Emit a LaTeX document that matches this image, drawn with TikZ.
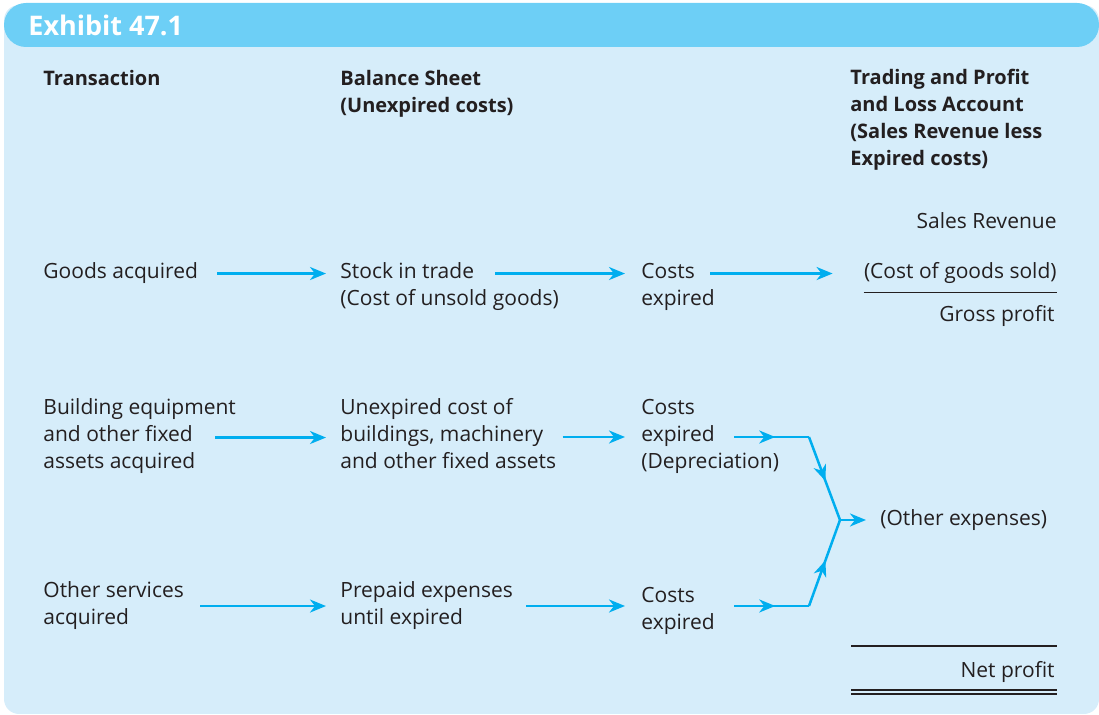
\documentclass[tikz,border=0pt]{standalone}
\usepackage{fontspec}
\setmainfont{Open Sans}
\usetikzlibrary{positioning}
\usetikzlibrary{arrows.meta}
\usetikzlibrary{decorations.markings}
\definecolor{flowblue}{HTML}{00AEEF}
\definecolor{barblue}{HTML}{6DCFF6}
\definecolor{paneblue}{HTML}{D6EDFA}
\definecolor{ink}{HTML}{231F20}

\begin{document}
\begin{tikzpicture}[x=0.5pt,y=-0.5pt,
  txt/.style={font=\fontsize{10.5}{13.5}\selectfont, text=ink, align=left, inner sep=0pt},
  head/.style={txt, font=\fontsize{10}{13.5}\selectfont\bfseries},
  flow/.style={-{Stealth[length=8pt,width=6.5pt,inset=2.5pt]}, line width=1.25pt, draw=flowblue},
  midflow/.style={line width=1.25pt, draw=flowblue, postaction={decorate},
    decoration={markings, mark=at position #1 with {\arrow[flowblue]{Stealth[length=8pt,width=6.5pt,inset=2.5pt]}}}},
  rule/.style={line width=0.6pt, draw=ink}]
  \useasboundingbox (0,0) rectangle (1099,715);
  % panel %
  \fill[paneblue, rounded corners=7.5pt] (4,5) rectangle (1099,714);
  \fill[barblue, rounded corners=11pt] (4,3) rectangle (1099,47);
  \node[anchor=base west, inner sep=0pt, text=white, font=\fontsize{13.5}{16}\selectfont\bfseries] (title) at (28,36) {Exhibit 47.1};
  % column heads (base = last line) %
  \node[head, anchor=base west] (trans) at (43,86) {Transaction};
  \node[head, anchor=base west] (bsheet) at (340,113) {Balance Sheet\\(Unexpired costs)};
  \node[head, anchor=base west] (tpl) at (850,166) {Trading and Profit\\and Loss Account\\(Sales Revenue less\\Expired costs)};
  % nodes %
  \node[txt, anchor=base west] (goods) at (43,279) {Goods acquired};
  \node[txt, anchor=base west] (stock) at (340,306) {Stock in trade\\(Cost of unsold goods)};
  \node[txt, anchor=base west] (costsA) at (641,306) {Costs\\expired};
  \node[txt, anchor=base east] (cogs) at (1057,279) {(Cost of goods sold)};
  \node[txt, anchor=base east] (sales) at ([shift={(0,-50)}]cogs.base east) {Sales Revenue};
  \node[txt, anchor=base east] (gross) at ([shift={(-2,43)}]cogs.base east) {Gross profit};
  \node[txt, anchor=base west] (bldg) at (43,469) {Building equipment\\and other fixed\\assets acquired};
  \node[txt, anchor=base west] (unexp) at (340,469) {Unexpired cost of\\buildings, machinery\\and other fixed assets};
  \node[txt, anchor=base west] (costsB) at (641,469) {Costs\\expired\\(Depreciation)};
  \node[txt, anchor=base west] (other) at (43,625) {Other services\\acquired};
  \node[txt, anchor=base west] (prepaid) at (340,625) {Prepaid expenses\\until expired};
  \node[txt, anchor=base west] (costsC) at (641,630) {Costs\\expired};
  \coordinate (jA) at ([shift={(168,-32)}]costsB.base west);
  \coordinate (jB) at ([shift={(168,-24)}]costsC.base west);
  \coordinate (jM) at (840,520);
  \node[txt, right=20pt of jM] (otherexp) {(Other expenses)};
  \node[txt, anchor=base east] (net) at (1055,678) {Net profit};
  % edges %
  \draw[flow] ([xshift=9.5pt]goods.east) -- ([xshift=-7pt]goods.east -| stock.west);
  \draw[flow] ([xshift=77.5pt]goods.east -| stock.west) -- ([xshift=-8pt]goods.east -| costsA.west);
  \draw[flow] ([xshift=34.5pt]goods.east -| costsA.west) -- ([xshift=-15.5pt]goods.east -| cogs.west);
  \draw[flow] ([xshift=-10.5pt,yshift=-0.5pt]bldg.east) -- ([xshift=-7pt,yshift=-0.5pt]bldg.east -| unexp.west);
  \draw[flow] ([xshift=3pt]unexp.east |- jA) -- ([xshift=-8pt]costsB.west |- jA);
  \draw[flow] ([xshift=8pt]other.east) -- ([xshift=-7pt]other.east -| prepaid.west);
  \draw[flow] ([xshift=6.5pt]prepaid.east |- jB) -- ([xshift=-8pt]costsC.west |- jB);
  \draw[midflow=0.55] ([xshift=46.5pt]costsB.west |- jA) -- (jA);
  \draw[midflow=0.55] ([xshift=46.5pt]costsC.west |- jB) -- (jB);
  \draw[midflow=0.53] (jA) -- (jM);
  \draw[midflow=0.53] (jB) -- (jM);
  \draw[flow, shorten >=7pt] (jM) -- (otherexp.west);
  % rules %
  \draw[rule] ([yshift=-4pt]cogs.south west) -- ([yshift=-4pt]cogs.south east);
  \draw[rule] ([shift={(-204,-32)}]net.base east) -- ([shift={(2,-32)}]net.base east);
  \draw[rule, line width=0.7pt, double=paneblue, double distance=1.3pt] ([shift={(-204,14)}]net.base east) -- ([shift={(2,14)}]net.base east);
\end{tikzpicture}
\end{document}
